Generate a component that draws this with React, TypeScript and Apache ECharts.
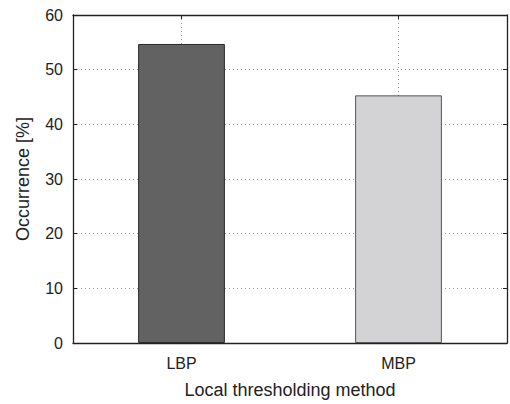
import React, { useEffect, useRef } from "react";
import * as echarts from "echarts";

const categories = ["LBP", "MBP"];
const occurrence = [54.7, 45.3];
const barColors = ["#626262", "#d3d3d5"];
const barBorders = ["#2a2a2a", "#555555"];
const yTicks = { min: 0, max: 60, interval: 10 };
// helper positions for the top frame axis: category centres fall on odd indices
const gridSlots = ["", categories[0], "", categories[1], ""];

const FONT = "Liberation Sans, Arial, sans-serif";

export default function App() {
  const ref = useRef<HTMLDivElement>(null);
  useEffect(() => {
    if (!ref.current) return;
    const chart = echarts.init(ref.current, undefined, { renderer: "svg" });
    const dotted = () => ({ color: "#9a9a9a", type: [1, 3] as any, width: 1 });
    const frame = () => ({ show: true, onZero: false, lineStyle: { color: "#222222", width: 1.3 } });
    const ticks = (extra: any = {}) => ({
      show: true,
      inside: true,
      length: 4,
      lineStyle: { color: "#222222" },
      ...extra,
    });
    const isCentre = (i: number) => i % 2 === 1;
    chart.setOption({
      animation: false,
      backgroundColor: "#ffffff",
      textStyle: { fontFamily: FONT },
      grid: { left: 73, right: 3, top: 15, bottom: 53, containLabel: false },
      xAxis: [
        {
          type: "category",
          data: categories,
          position: "bottom",
          axisLine: frame(),
          axisTick: ticks({ alignWithLabel: true }),
          axisLabel: { color: "#222", fontSize: 16, margin: 12, fontFamily: FONT },
          splitLine: { show: false },
          name: "Local thresholding method",
          nameLocation: "middle",
          nameGap: 38,
          nameTextStyle: { color: "#222", fontSize: 18, fontFamily: FONT },
        },
        {
          type: "category",
          data: gridSlots,
          boundaryGap: false,
          position: "top",
          axisLine: frame(),
          axisTick: ticks({ interval: isCentre }),
          axisLabel: { show: false },
          splitLine: { show: true, interval: isCentre, lineStyle: dotted() },
        },
      ],
      yAxis: [
        {
          type: "value",
          min: yTicks.min,
          max: yTicks.max,
          interval: yTicks.interval,
          position: "left",
          axisLine: frame(),
          axisTick: ticks(),
          axisLabel: { color: "#222", fontSize: 16, margin: 10, fontFamily: FONT },
          splitLine: { show: true, lineStyle: dotted() },
          name: "Occurrence [%]",
          nameLocation: "middle",
          nameGap: 41,
          nameTextStyle: { color: "#222", fontSize: 18, fontFamily: FONT },
        },
        {
          type: "value",
          min: yTicks.min,
          max: yTicks.max,
          interval: yTicks.interval,
          position: "right",
          axisLine: frame(),
          axisTick: ticks(),
          axisLabel: { show: false },
          splitLine: { show: false },
        },
      ],
      series: [
        {
          type: "bar",
          xAxisIndex: 0,
          yAxisIndex: 0,
          z: 3,
          barWidth: "40%",
          data: occurrence.map((v, i) => ({
            value: v,
            itemStyle: { color: barColors[i], borderColor: barBorders[i], borderWidth: 1 },
          })),
        },
      ],
    });
    return () => chart.dispose();
  }, []);
  return (
    <div
      ref={ref}
      style={{ position: "absolute", left: 0, top: 0, width: 510, height: 404 }}
    />
  );
}
